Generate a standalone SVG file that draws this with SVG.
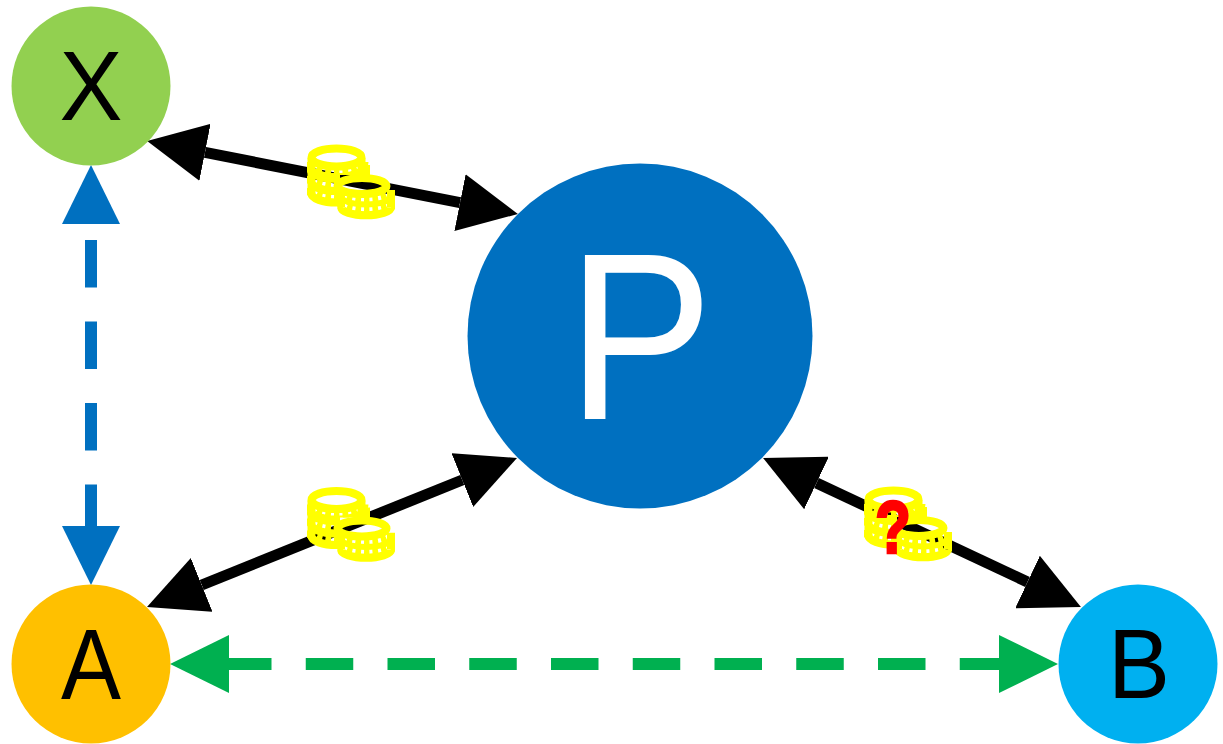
<svg xmlns="http://www.w3.org/2000/svg" width="1223" height="744" viewBox="0 0 1223 744">
<style>
.lbl{font-family:"Liberation Sans",Arial,sans-serif;text-anchor:middle}
.solid{stroke:#000;stroke-width:11;fill:none;marker-start:url(#ab);marker-end:url(#ab)}
.blue{stroke:#0070c0;stroke-width:12;fill:none;stroke-dasharray:47.500 34}
.green{stroke:#00b050;stroke-width:12;fill:none;stroke-dasharray:47.500 34.250}
.c{fill:none;stroke:#ff0;stroke-width:8}
.h{fill:none;stroke:#ff0;stroke-width:14;stroke-dasharray:5.500 3}
</style>
<defs>
<marker id="ab" markerUnits="userSpaceOnUse" viewBox="0 0 59 58" markerWidth="59" markerHeight="58" refX="0" refY="29" orient="auto-start-reverse"><path d="M0 0L59 29L0 58z" fill="#000"/></marker>
<marker id="bl" markerUnits="userSpaceOnUse" viewBox="0 0 59 58" markerWidth="59" markerHeight="58" refX="0" refY="29" orient="auto-start-reverse"><path d="M0 0L59 29L0 58z" fill="#0070c0"/></marker>
<marker id="gr" markerUnits="userSpaceOnUse" viewBox="0 0 59 58" markerWidth="59" markerHeight="58" refX="0" refY="29" orient="auto-start-reverse"><path d="M0 0L59 29L0 58z" fill="#00b050"/></marker>
<clipPath id="back"><path d="M307 140H371V175H340V215H307z"/></clipPath>
<clipPath id="front"><path d="M337.500 190H395V225H337.500z"/></clipPath>
<g id="coins">
<g clip-path="url(#back)">
<path class="h" d="M311.500 162A25 9 0 0 0 361.500 162"/>
<path class="h" d="M311.500 176A25 9 0 0 0 361.500 176"/>
<path class="h" d="M311.500 188A25 9 0 0 0 361.500 188"/>
<path class="c" style="stroke-width:10" d="M311.500 169A25 9 0 0 0 361.500 169"/>
<path class="c" d="M311.500 182A25 9 0 0 0 361.500 182"/>
<path class="c" d="M311.500 193.500A25 9 0 0 0 361.500 193.500"/>
<path class="c" d="M311.500 158V194M361.500 158V175M366 165V178"/>
<ellipse class="c" cx="336.500" cy="157.500" rx="25" ry="9"/>
</g>
<g clip-path="url(#front)">
<path class="h" d="M341 191.500A25 8 0 0 0 391 191.500"/>
<path class="h" d="M341 201.500A25 8 0 0 0 391 201.500"/>
<path class="c" style="stroke-width:6" d="M341 196.500A25 8 0 0 0 391 196.500"/>
<path class="c" d="M341 207.250A25 8 0 0 0 391 207.250"/>
<path class="c" d="M341 190V207M391 190V207"/>
</g>
<ellipse class="c" cx="362" cy="186" rx="24.500" ry="8"/>
</g>
</defs>
<g id="connectors">
<path class="solid" d="M205 152.400L460 202.600"/>
<path class="solid" d="M201.700 585L462.300 480"/>
<path class="solid" d="M816.500 483L1027.500 582"/>
<path class="blue" d="M91 240V526"/>
<path d="M91 224V526" fill="none" stroke="none" marker-start="url(#bl)" marker-end="url(#bl)"/>
<path class="green" d="M224 664H999"/>
<path d="M229 664H999" fill="none" stroke="none" marker-start="url(#gr)" marker-end="url(#gr)"/>
</g>
<g id="coins-xp"><use href="#coins"/></g>
<g id="coins-ap"><use href="#coins" y="342.500"/></g>
<g id="coins-pb"><use href="#coins" x="557" y="342"/></g>
<g id="node-x"><circle cx="91" cy="86" r="79.500" fill="#92d050"/><text class="lbl" x="91" y="120" font-size="99" textLength="63" lengthAdjust="spacingAndGlyphs">X</text></g>
<g id="node-p"><circle cx="640" cy="336" r="172.500" fill="#0070c0"/><text class="lbl" x="640" y="419" font-size="238" fill="#fff" textLength="146" lengthAdjust="spacingAndGlyphs">P</text></g>
<g id="node-a"><circle cx="91" cy="664" r="79.500" fill="#ffc000"/><text class="lbl" x="91" y="699" font-size="100" textLength="60" lengthAdjust="spacingAndGlyphs">A</text></g>
<g id="node-b"><circle cx="1138" cy="664" r="79.500" fill="#00b0f0"/><text class="lbl" x="1139" y="698" font-size="99" textLength="62" lengthAdjust="spacingAndGlyphs">B</text></g>
<text id="q" class="lbl" x="893" y="553" font-size="75" font-weight="bold" fill="#f00" stroke="#f00" stroke-width="2.500" textLength="36" lengthAdjust="spacingAndGlyphs">?</text>
</svg>
